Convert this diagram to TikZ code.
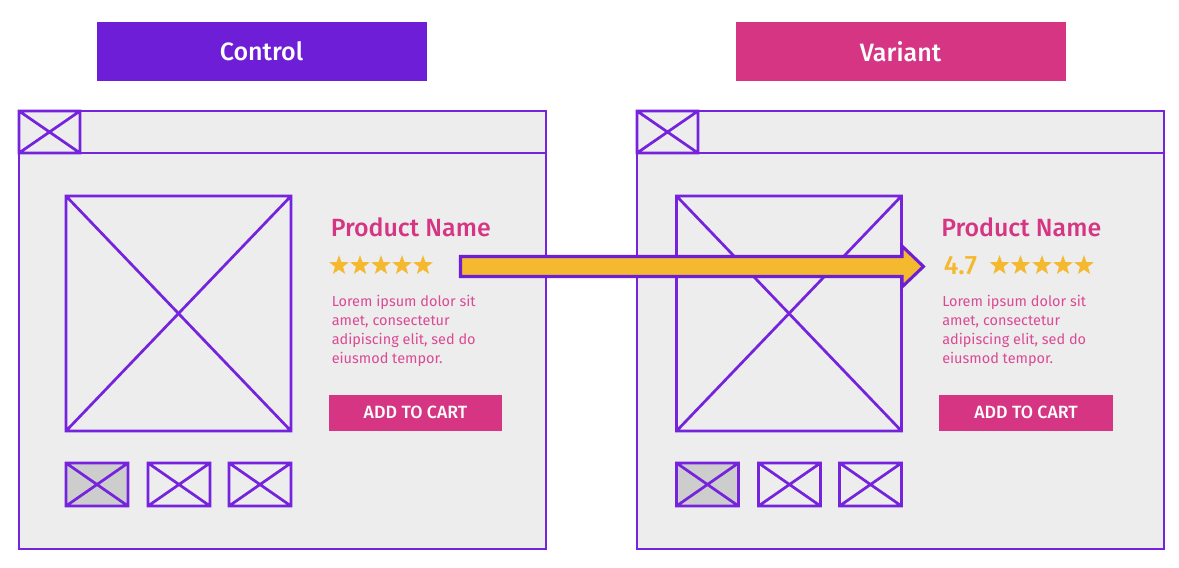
\documentclass[tikz,border=0pt]{standalone}
\usepackage{fontspec}
\setmainfont[BoldFont={Fira Sans Medium}]{Fira Sans}
\usetikzlibrary{shapes.geometric}
\definecolor{purp}{HTML}{6D1ED6}
\definecolor{line}{HTML}{7523DC}
\definecolor{pink}{HTML}{D63583}
\definecolor{descpink}{HTML}{DB4A94}
\definecolor{panel}{HTML}{EDEDED}
\definecolor{thumb}{HTML}{CDCDCD}
\definecolor{gold}{HTML}{F4B92F}
\tikzset{
  x=0.75pt,y=-0.75pt,
  wire/.style={draw=line,line width=2.05pt,line join=miter},
  label box/.style={rectangle,inner sep=0pt,minimum width=247.5pt,minimum height=44.25pt,text=white,font=\fontsize{18.8}{22}\selectfont\bfseries},
  cart box/.style={rectangle,fill=pink,inner sep=0pt,minimum width=130pt,minimum height=27pt,text=white,font=\fontsize{13.3}{15}\selectfont\bfseries},
  ratingstar/.style={star,star points=5,star point ratio=2.45,fill=gold,inner sep=0pt,minimum size=15.5pt},
  title text/.style={anchor=west,inner sep=0pt,text=pink,font=\fontsize{18.7}{21}\selectfont\bfseries},
  desc text/.style={anchor=north west,inner sep=0pt,text=descpink,align=left,font=\fontsize{10.85}{14.25}\selectfont},
}
\newcommand{\crossbox}[6]{% name, x1,y1,x2,y2, fill
  \path[fill=#6] (#2,#3) rectangle (#4,#5);
  \draw[wire] (#2,#3) rectangle (#4,#5) (#2,#3) -- (#4,#5) (#2,#5) -- (#4,#3);
  \coordinate (#1) at (#2,#3);
}
\newcommand{\frameat}[2]{% name prefix, frame x offset
  \begin{scope}[xshift=#2*0.75pt]
    \draw[wire,fill=panel] (19,111) rectangle (546,549);
    \draw[wire] (19,153) -- (546,153);
    \crossbox{#1icon}{19}{111}{80}{153}{panel}
  \end{scope}
}
\newcommand{\contentat}[2]{% name prefix, content x offset
  \begin{scope}[xshift=#2*0.75pt]
    \crossbox{#1image}{66}{196}{291}{431}{panel}
    \crossbox{#1thumba}{66}{463}{128}{506}{thumb}
    \crossbox{#1thumbb}{148}{463}{210}{506}{panel}
    \crossbox{#1thumbc}{229}{463}{291}{506}{panel}
    \node[title text] (#1title) at (330.5,227) {Product Name};
    \node[desc text] (#1desc) at (331.5,295) {Lorem ipsum dolor sit\\amet, consectetur\\adipiscing elit, sed do\\eiusmod tempor.};
    \node[cart box] (#1cart) at (415.5,413) {\raisebox{1pt}{ADD TO CART}};
  \end{scope}
}
\begin{document}
\begin{tikzpicture}
\useasboundingbox (0,0) rectangle (1179,568);
\node[label box,fill=purp] (control) at (261.5,51.5) {\raisebox{0.5pt}{Control}};
\node[label box,fill=pink] (variant) at (900.5,51.5) {\raisebox{0.5pt}{Variant}};
\frameat{c}{0}
\frameat{v}{618}
\contentat{c}{0}
\contentat{v}{610.5}
\foreach \i/\xx in {1/339,2/360,3/381,4/402,5/423}
  \node[ratingstar] (cstar\i) at (\xx,265.5) {};
\foreach \i/\xx in {1/999.5,2/1020.5,3/1042,4/1063,5/1084}
  \node[ratingstar] (vstar\i) at (\xx,265.5) {};
\node[anchor=west,inner sep=0pt,text=gold,font=\fontsize{20}{24}\selectfont\bfseries] (rating) at (943.5,266) {4.7};
\draw[draw=purp,line width=2.3pt,fill=gold,line join=miter]
  (460.5,256.5) -- (902,256.5) -- (902,246) -- (923.5,266.5) -- (902,287) -- (902,276.5) -- (460.5,276.5) -- cycle;
\end{tikzpicture}
\end{document}
